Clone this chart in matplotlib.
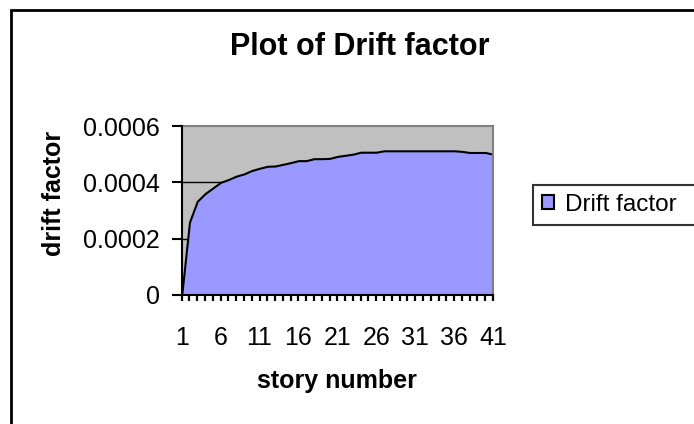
#!/usr/bin/env python3
import numpy as np
import matplotlib
matplotlib.use('Agg')
import matplotlib.pyplot as plt
from matplotlib.patches import Patch, Rectangle

plt.rc('font', family=['Liberation Sans', 'DejaVu Sans'])

# story numbers and drift factor
stories = list(range(1, 42))
drift = [
    0.0, 0.000259, 0.000333, 0.00036, 0.00038, 0.0004, 0.00041, 0.000422,
    0.00043, 0.000442, 0.00045, 0.000457, 0.000458, 0.000464, 0.00047,
    0.000477, 0.000477, 0.000484, 0.000484, 0.000485, 0.000492, 0.000496,
    0.0005, 0.000507, 0.000507, 0.000507, 0.000512, 0.000512, 0.000512,
    0.000512, 0.000512, 0.000512, 0.000512, 0.000512, 0.000512, 0.000512,
    0.00051, 0.000506, 0.000506, 0.000506, 0.0005,
]
y_ticks = [0, 0.0002, 0.0004, 0.0006]
y_tick_labels = ['0', '0.0002', '0.0004', '0.0006']
x_tick_labels = [1, 6, 11, 16, 21, 26, 31, 36, 41]

W, H = 694, 424


def main():
    fig = plt.figure(figsize=(W / 100, H / 100), dpi=100)
    fig.patch.set_facecolor('white')

    # outer chart frame (runs off the right and bottom of the picture)
    fig.add_artist(Rectangle((11 / W, -0.2), 1.2, 1.2 - 10 / H,
                             transform=fig.transFigure, fill=False,
                             edgecolor='black', lw=2.0))

    ax = fig.add_axes([181.7 / W, 1 - 295 / H, (493 - 181.7) / W, (295 - 126) / H])
    ax.set_facecolor('#C0C0C0')

    for yv in y_ticks[1:-1]:
        ax.axhline(yv, color='black', lw=1.0, zorder=1)

    ax.fill_between(stories, drift, 0, facecolor='#9999FF',
                    edgecolor='black', lw=1.5, zorder=2)

    ax.set_xlim(stories[0], stories[-1])
    ax.set_ylim(y_ticks[0], y_ticks[-1])

    ax.set_yticks(y_ticks)
    ax.set_yticklabels(y_tick_labels, fontsize=18)
    ax.set_xticks(x_tick_labels)
    ax.set_xticklabels([str(v) for v in x_tick_labels], fontsize=18)
    ax.set_xticks(stories, minor=True)

    ax.tick_params(axis='y', direction='out', length=7, width=1.5, pad=8.5)
    ax.tick_params(axis='x', which='both', direction='out', length=4,
                   width=1.6, pad=18)

    for side in ('left', 'bottom'):
        ax.spines[side].set_color('black')
        ax.spines[side].set_linewidth(1.5)
        ax.spines[side].set_zorder(3)
    for side in ('top', 'right'):
        ax.spines[side].set_color('#808080')
        ax.spines[side].set_linewidth(1.5)

    fig.text(360 / W, 1 - 47 / H, 'Plot of Drift factor', fontsize=22,
             fontweight='bold', ha='center', va='center')
    fig.text(337 / W, 1 - 381 / H, 'story number', fontsize=18,
             fontweight='bold', ha='center', va='center')
    fig.text(54 / W, 1 - 193 / H, 'drift factor', fontsize=18,
             fontweight='bold', ha='center', va='center', rotation=90)

    # legend box is cut by the right edge in the original
    handle = Patch(facecolor='#9999FF', edgecolor='black', lw=1.5)
    leg = fig.legend([handle], ['Drift factor    '], loc='center left',
                     bbox_to_anchor=(533 / W, 1 - 205 / H), fontsize=17.5,
                     frameon=True, fancybox=False, handlelength=0.5,
                     handleheight=0.5, handletextpad=0.45, borderpad=0.35,
                     borderaxespad=0)
    frame = leg.get_frame()
    frame.set_edgecolor('black')
    frame.set_linewidth(1.5)

    fig.savefig('out.png', dpi=100)


if __name__ == '__main__':
    main()
